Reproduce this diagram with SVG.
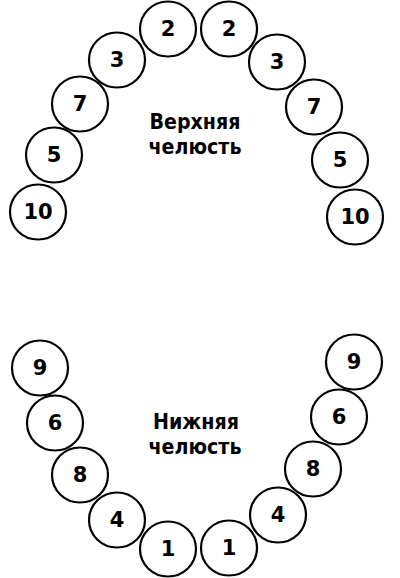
<svg xmlns="http://www.w3.org/2000/svg" width="400" height="578" viewBox="0 0 400 578">
<style>
.t ellipse{fill:#fff;stroke:#000;stroke-width:2.2}
.t text{font-family:"DejaVu Sans",Verdana,sans-serif;font-weight:bold;font-size:21px;text-anchor:middle;fill:#000}
.lbl{font-family:"DejaVu Sans",Verdana,sans-serif;font-weight:bold;font-size:21px;text-anchor:middle;fill:#000}
</style>
<rect width="400" height="578" fill="#fff"/>
<g id="connectors"/>
<g id="u2l" class="t"><ellipse cx="168" cy="29" rx="28" ry="27.5"/><text x="168" y="36">2</text></g>
<g id="u3l" class="t"><ellipse cx="117" cy="60" rx="28" ry="27.5"/><text x="117" y="67">3</text></g>
<g id="u7l" class="t"><ellipse cx="80" cy="104" rx="28" ry="27.5"/><text x="80" y="111">7</text></g>
<g id="u5l" class="t"><ellipse cx="54" cy="155" rx="28" ry="27.5"/><text x="54" y="162">5</text></g>
<g id="u10l" class="t"><ellipse cx="38" cy="212" rx="28" ry="27.5"/><text x="38" y="219">10</text></g>
<g id="u2r" class="t"><ellipse cx="229" cy="29" rx="28" ry="27.5"/><text x="229" y="36">2</text></g>
<g id="u3r" class="t"><ellipse cx="277" cy="62" rx="28" ry="27.5"/><text x="277" y="69">3</text></g>
<g id="u7r" class="t"><ellipse cx="314" cy="107" rx="28" ry="27.5"/><text x="314" y="114">7</text></g>
<g id="u5r" class="t"><ellipse cx="340" cy="160" rx="28" ry="27.5"/><text x="340" y="167">5</text></g>
<g id="u10r" class="t"><ellipse cx="355" cy="217" rx="28" ry="27.5"/><text x="355" y="224">10</text></g>
<g id="upper-label"><text class="lbl" x="195" y="129" textLength="91" lengthAdjust="spacingAndGlyphs">Верхняя</text><text class="lbl" x="195" y="154" textLength="93" lengthAdjust="spacingAndGlyphs">челюсть</text></g>
<g id="l9l" class="t"><ellipse cx="40" cy="368" rx="28" ry="27.5"/><text x="40" y="375">9</text></g>
<g id="l6l" class="t"><ellipse cx="55" cy="423" rx="28" ry="27.5"/><text x="55" y="430">6</text></g>
<g id="l8l" class="t"><ellipse cx="80" cy="475" rx="28" ry="27.5"/><text x="80" y="482">8</text></g>
<g id="l4l" class="t"><ellipse cx="117" cy="520" rx="28" ry="27.5"/><text x="117" y="527">4</text></g>
<g id="l1l" class="t"><ellipse cx="168" cy="549" rx="28" ry="27.5"/><text x="168" y="556">1</text></g>
<g id="l9r" class="t"><ellipse cx="354" cy="362" rx="28" ry="27.5"/><text x="354" y="369">9</text></g>
<g id="l6r" class="t"><ellipse cx="339" cy="417" rx="28" ry="27.5"/><text x="339" y="424">6</text></g>
<g id="l8r" class="t"><ellipse cx="313" cy="469" rx="28" ry="27.5"/><text x="313" y="476">8</text></g>
<g id="l4r" class="t"><ellipse cx="278" cy="515" rx="28" ry="27.5"/><text x="278" y="522">4</text></g>
<g id="l1r" class="t"><ellipse cx="229" cy="548" rx="28" ry="27.5"/><text x="229" y="555">1</text></g>
<g id="lower-label"><text class="lbl" x="196" y="429" textLength="86" lengthAdjust="spacingAndGlyphs">Нижняя</text><text class="lbl" x="195" y="454" textLength="93" lengthAdjust="spacingAndGlyphs">челюсть</text></g>
</svg>
